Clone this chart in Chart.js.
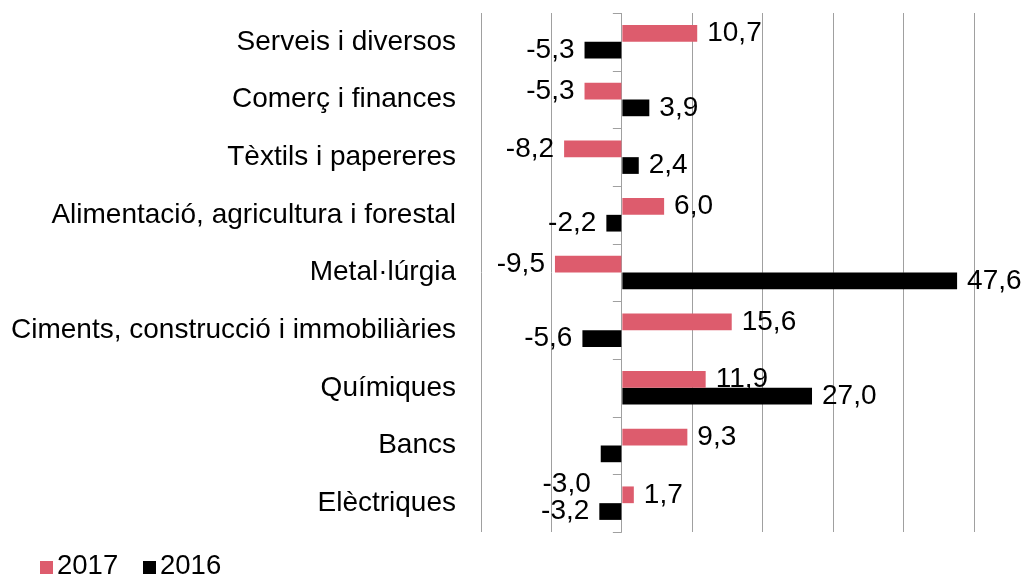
<!DOCTYPE html>
<html lang="ca">
<head>
<meta charset="UTF-8">
<title>Variació per sectors</title>
<script src="https://cdn.jsdelivr.net/npm/chart.js"></script>
<style>
  html, body { margin: 0; padding: 0; background: #fff; }
  #wrap { width: 1034px; height: 576px; }
</style>
</head>
<body>
<div id="wrap"><canvas id="chart" width="1034" height="576"></canvas></div>
<script>
const sectors = [
  "Serveis i diversos",
  "Comerç i finances",
  "Tèxtils i papereres",
  "Alimentació, agricultura i forestal",
  "Metal·lúrgia",
  "Ciments, construcció i immobiliàries",
  "Químiques",
  "Bancs",
  "Elèctriques"
];
const values2017 = [10.7, -5.3, -8.2, 6.0, -9.5, 15.6, 11.9, 9.3, 1.7];
const values2016 = [-5.3, 3.9, 2.4, -2.2, 47.6, -5.6, 27.0, -3.0, -3.2];
const seriesNames = ["2017", "2016"];

const FONT = "'Liberation Sans', Arial, sans-serif";
const GRID = "#a0a0a0";

function fmt(v) { return v.toFixed(1).replace(".", ","); }

// the Bancs 2016 label sits lower in the original
const labelNudge = { "1-7": 30 };

const extras = {
  id: "extras",
  beforeDatasetsDraw(chart) {
    const ctx = chart.ctx;
    const x = chart.scales.x, y = chart.scales.y;
    const zero = x.getPixelForValue(0);
    ctx.save();
    // tick marks on the zero axis
    ctx.strokeStyle = GRID;
    ctx.lineWidth = 1;
    ctx.beginPath();
    for (let i = 0; i <= sectors.length; i++) {
      const py = Math.round(y.getPixelForValue(i - 0.5)) + 0.5;
      ctx.moveTo(zero - 9, py);
      ctx.lineTo(zero, py);
    }
    ctx.stroke();
    // value labels
    ctx.font = "28px " + FONT;
    ctx.fillStyle = "#000";
    ctx.textBaseline = "middle";
    chart.data.datasets.forEach((ds, di) => {
      const meta = chart.getDatasetMeta(di);
      meta.data.forEach((bar, i) => {
        const v = ds.data[i];
        const dy = labelNudge[di + "-" + i] || 0;
        if (v >= 0) {
          ctx.textAlign = "left";
          ctx.fillText(fmt(v), bar.x + 10, bar.y + dy);
        } else {
          ctx.textAlign = "right";
          ctx.fillText(fmt(v), bar.x - 10, bar.y + dy);
        }
      });
    });
    ctx.restore();
  },
  afterDraw(chart) {
    // legend bottom left
    const ctx = chart.ctx;
    ctx.save();
    ctx.font = "27.5px " + FONT;
    ctx.textBaseline = "middle";
    ctx.textAlign = "left";
    let lx = 40;
    chart.data.datasets.forEach(ds => {
      ctx.fillStyle = ds.backgroundColor;
      ctx.fillRect(lx, 561, 13, 13);
      ctx.fillStyle = "#000";
      ctx.fillText(ds.label, lx + 17, 566);
      lx += 103;
    });
    ctx.restore();
  }
};

new Chart(document.getElementById("chart"), {
  type: "bar",
  data: {
    labels: sectors,
    datasets: [
      { label: seriesNames[0], data: values2017, backgroundColor: "#dd5c6d" },
      { label: seriesNames[1], data: values2016, backgroundColor: "#000000" }
    ]
  },
  options: {
    indexAxis: "y",
    responsive: false,
    animation: false,
    devicePixelRatio: 1,
    layout: { padding: { left: 0, right: 60, top: 13, bottom: 44 } },
    datasets: { bar: { categoryPercentage: 0.58, barPercentage: 1.0 } },
    plugins: { legend: { display: false }, tooltip: { enabled: false } },
    scales: {
      x: {
        min: -20,
        max: 50,
        ticks: { display: false, stepSize: 10 },
        grid: { color: GRID, drawTicks: false },
        border: { display: false },
        afterFit(scale) { scale.height = 0; }
      },
      y: {
        grid: { display: false, drawTicks: false },
        border: { display: false },
        ticks: { color: "#000", font: { family: FONT, size: 28 }, padding: 25 },
        afterFit(scale) {
          scale.width = 481;
          scale.paddingTop = 0;
          scale.paddingBottom = 0;
        }
      }
    }
  },
  plugins: [extras]
});
</script>
</body>
</html>
